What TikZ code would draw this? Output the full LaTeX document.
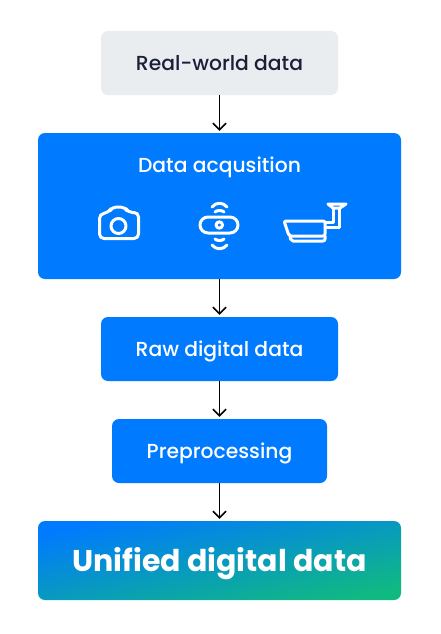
\documentclass[tikz,border=0pt]{standalone}
\usepackage{fontspec}
\setmainfont{Poppins}[UprightFont=* Medium, BoldFont=* Bold]
\usepackage{tikz}
\usetikzlibrary{arrows.meta,positioning,calc}
\definecolor{boxblue}{RGB}{0,122,255}
\definecolor{boxgrey}{RGB}{233,237,240}
\definecolor{inkdark}{RGB}{27,32,56}
\definecolor{boxgreen}{RGB}{16,185,129}

\begin{document}
\begin{tikzpicture}[
    x=1pt, y=-1pt,
    box/.style={rounded corners=7pt, minimum height=64pt, inner sep=0pt, fill=boxblue},
    boxtext/.style={anchor=base, text=white, inner sep=0pt, font=\fontsize{20.3}{24}\selectfont},
    flow/.style={draw=black, line width=1.6pt, shorten >=2pt, -{Straight Barb[length=6.5pt,width=13pt]}},
    icon/.style={draw=white, line width=3pt, line join=round, line cap=round},
]
    \useasboundingbox (0,0) rectangle (441,634);
    \fill[white] (0,0) rectangle (441,634);

    % Boxes
    \node[box, fill=boxgrey, minimum width=237pt] (real) at (219.5,63) {};
    \node[box, minimum width=363pt, minimum height=146pt] (acq) at (219.5,206) {};
    \node[box, minimum width=237pt] (raw) at (219.5,349) {};
    \node[box, minimum width=215pt] (prep) at (219.5,451) {};
    \node[box, minimum width=363pt, minimum height=79pt, fill=none, left color=boxblue, right color=boxgreen, shading angle=12] (unified) at (219.5,560.5) {};

    % Labels
    \node[boxtext, text=inkdark] (realtext) at (219.5,70.5) {Real-world data};
    \node[boxtext] (acqtext) at (219.5,172) {Data acqusition};
    \node[boxtext] (rawtext) at (219.5,356) {Raw digital data};
    \node[boxtext] (preptext) at (219.5,458) {Preprocessing};
    \node[boxtext, font=\fontsize{30}{36}\selectfont\bfseries] (unifiedtext) at (219.5,571) {Unified digital data};

    % Arrows
    \draw[flow] (real) -- (acq);
    \draw[flow] (acq) -- (raw);
    \draw[flow] (raw) -- (prep);
    \draw[flow] (prep) -- (unified);

    % Camera
    \draw[icon, rounded corners=4.5pt] (99.5,214) -- (99.5,238.5) -- (138.5,238.5) -- (138.5,212.5) -- (128,212.5) -- (125,207) -- (112,207) -- (109,212.5) -- cycle;
    \draw[icon] (118.5,226) circle (7.5);

    % Webcam
    \draw[icon, rounded corners=8pt] (200,217) rectangle (238,233);
    \draw[icon] (219.3,225) circle (3.2);
    \draw[icon] (215,212) .. controls (217,210) and (222,210) .. (224,212);
    \draw[icon] (212,207) .. controls (216,202) and (223,202) .. (227,207);
    \draw[icon] (215,239) .. controls (217,241) and (222,241) .. (224,239);
    \draw[icon] (212,245) .. controls (216,250) and (223,250) .. (227,245);

    % Security camera
    \draw[icon, rounded corners=2pt] (284,221) -- (325,221) -- (325,236) -- (289,236) -- cycle;
    \draw[icon, rounded corners=2pt] (290,236) -- (291,241) -- (325,241) -- (325,236);
    \draw[icon] (325,227) -- (339,227) -- (339,208);
    \draw[icon] (333,208) -- (333,222) -- (325,222);
    \draw[icon] (328,204) -- (346,204) -- (340,208) -- (333,208) -- cycle;
\end{tikzpicture}
\end{document}
